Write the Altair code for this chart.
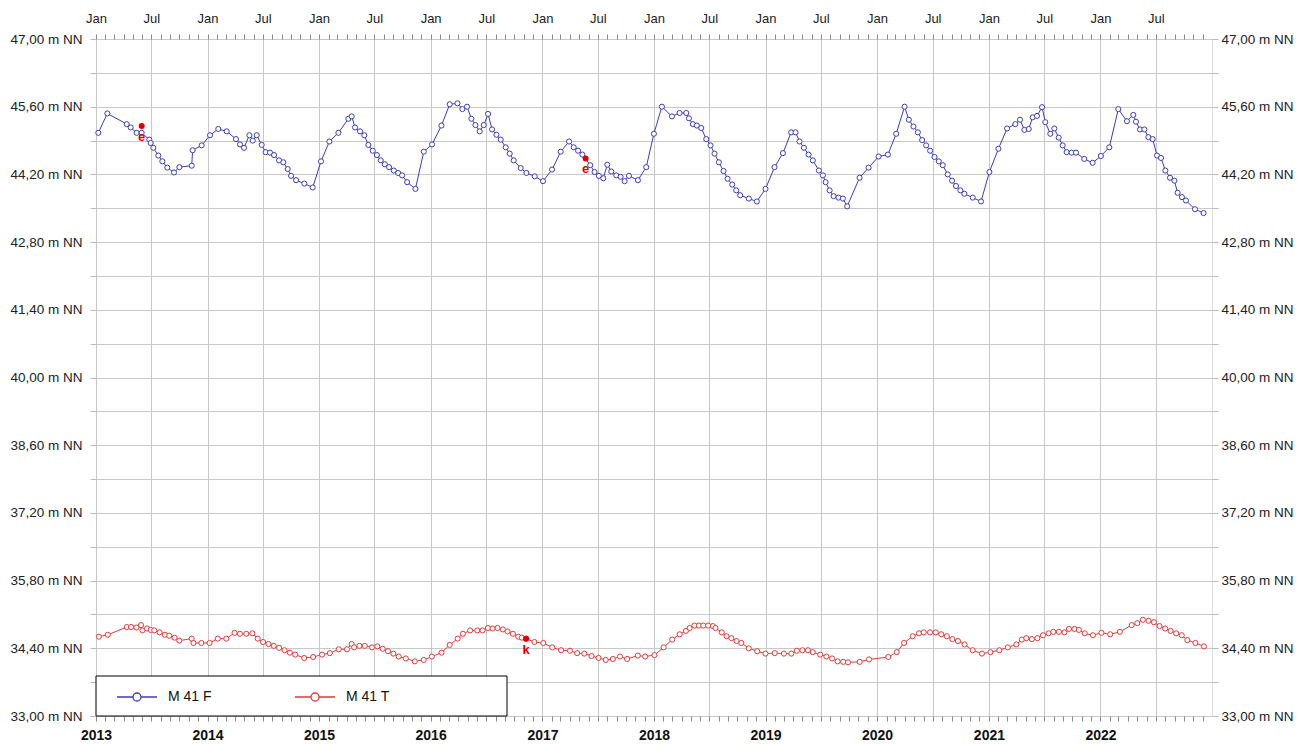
import altair as alt
import pandas as pd

# ---- data (months since Jan 2013, level in m NN) ----
blue_month = [0.25, 1.22, 3.30, 3.73, 4.37, 4.91, 5.73, 5.88, 6.16, 6.70, 7.13, 7.67, 8.39, 8.96,
              10.29, 10.39, 11.36, 12.26, 13.15, 14.05, 15.05, 15.48, 15.91, 16.49, 16.85, 17.28,
              17.81, 18.24, 18.71, 19.14, 19.68, 20.14, 20.61, 20.97, 21.51, 22.40, 23.30, 24.19,
              25.09, 26.06, 27.13, 27.49, 27.85, 28.39, 28.85, 29.28, 29.75, 30.20, 30.62, 31.05,
              31.51, 32.02, 32.48, 32.91, 33.45, 34.34, 35.24, 36.13, 37.14, 38.03, 38.86, 39.39,
              39.89, 40.36, 40.79, 41.25, 41.69, 42.15, 42.58, 43.05, 43.51, 44.05, 44.48, 44.91,
              45.66, 46.27, 47.17, 48.06, 49.03, 49.96, 50.86, 51.36, 51.83, 52.29, 53.14, 53.60,
              54.07, 54.54, 54.97, 55.40, 55.94, 56.40, 56.83, 57.30, 58.26, 59.16, 59.98, 60.84,
              61.92, 62.74, 63.46, 63.75, 64.17, 64.60, 65.07, 65.61, 66.07, 66.50, 66.97, 67.47,
              67.90, 68.40, 68.83, 69.26, 70.19, 71.05, 71.98, 72.95, 73.85, 74.74, 75.21, 75.64,
              76.11, 76.61, 77.07, 77.72, 78.15, 78.44, 78.87, 79.30, 79.83, 80.30, 80.76, 82.09,
              83.06, 84.14, 85.14, 86.03, 86.93, 87.39, 87.89, 88.36, 88.82, 89.25, 89.68, 90.15,
              90.61, 91.04, 91.57, 92.04, 92.46, 92.93, 93.36, 94.26, 95.15, 96.05, 97.02, 97.95,
              98.84, 99.34, 99.81, 100.28, 100.70, 101.17, 101.71, 102.06, 102.60, 103.03, 103.50,
              103.93, 104.36, 104.89, 105.36, 106.25, 107.15, 108.04, 108.94, 109.91, 110.84,
              111.52, 111.81, 112.24, 112.71, 113.14, 113.61, 114.07, 114.50, 114.97, 115.47,
              115.94, 116.29, 116.75, 117.18, 118.15, 119.08]
blue_level = [45.06, 45.46, 45.24, 45.17, 45.06, 45.06, 44.92, 44.85, 44.75, 44.59, 44.47, 44.34,
              44.24, 44.35, 44.38, 44.70, 44.80, 45.01, 45.14, 45.09, 44.93, 44.82, 44.75, 45.01,
              44.90, 45.01, 44.81, 44.66, 44.65, 44.60, 44.49, 44.45, 44.31, 44.17, 44.08, 44.01,
              43.93, 44.47, 44.88, 45.06, 45.35, 45.40, 45.17, 45.09, 45.01, 44.81, 44.69, 44.60,
              44.49, 44.41, 44.35, 44.28, 44.23, 44.18, 44.04, 43.90, 44.67, 44.82, 45.21, 45.65,
              45.67, 45.55, 45.60, 45.35, 45.22, 45.09, 45.22, 45.45, 45.13, 45.02, 44.92, 44.76,
              44.63, 44.49, 44.33, 44.23, 44.16, 44.06, 44.30, 44.67, 44.88, 44.76, 44.69, 44.61,
              44.39, 44.25, 44.17, 44.12, 44.40, 44.26, 44.18, 44.15, 44.06, 44.17, 44.08, 44.35,
              45.04, 45.60, 45.40, 45.47, 45.47, 45.36, 45.24, 45.21, 45.16, 44.93, 44.80, 44.63,
              44.45, 44.27, 44.11, 43.99, 43.87, 43.77, 43.70, 43.64, 43.90, 44.35, 44.64, 45.07,
              45.07, 44.88, 44.75, 44.61, 44.49, 44.28, 44.18, 44.04, 43.87, 43.75, 43.72, 43.70,
              43.54, 44.13, 44.34, 44.57, 44.61, 45.04, 45.60, 45.33, 45.19, 45.07, 44.91, 44.80,
              44.69, 44.56, 44.47, 44.39, 44.20, 44.07, 43.96, 43.87, 43.80, 43.72, 43.64, 44.25,
              44.73, 45.15, 45.24, 45.33, 45.12, 45.14, 45.38, 45.41, 45.59, 45.28, 45.04, 45.15,
              44.96, 44.80, 44.66, 44.65, 44.65, 44.52, 44.44, 44.58, 44.76, 45.55, 45.30, 45.43,
              45.29, 45.13, 45.13, 44.97, 44.93, 44.59, 44.54, 44.28, 44.13, 44.07, 43.82, 43.73,
              43.66, 43.48, 43.40]

red_month = [0.31, 1.27, 3.31, 3.77, 4.34, 4.84, 5.00, 5.49, 5.88, 6.26, 6.84, 7.41, 7.87, 8.45,
             8.95, 10.29, 10.48, 11.33, 12.21, 13.09, 14.01, 14.90, 15.47, 16.16, 16.81, 17.39,
             17.96, 18.54, 19.11, 19.69, 20.27, 20.84, 21.42, 22.38, 23.34, 24.30, 25.14, 26.10,
             26.98, 27.48, 27.75, 28.32, 28.90, 29.67, 30.24, 30.82, 31.39, 31.97, 32.54, 33.31,
             34.27, 35.23, 36.11, 37.15, 38.03, 38.88, 39.45, 40.22, 40.99, 41.56, 42.14, 42.64,
             43.17, 43.75, 44.25, 44.82, 45.40, 45.78, 46.24, 47.13, 48.09, 49.05, 50.00, 50.96,
             51.73, 52.50, 53.27, 54.03, 54.80, 55.57, 56.33, 57.10, 58.25, 59.04, 60.04, 61.03,
             61.95, 62.75, 63.42, 63.82, 64.34, 64.81, 65.29, 65.81, 66.32, 66.60, 67.28, 67.79,
             68.31, 68.87, 69.38, 70.18, 71.09, 71.98, 72.97, 73.96, 74.76, 75.35, 75.95, 76.55,
             77.06, 77.86, 78.53, 79.14, 79.73, 80.33, 80.85, 82.11, 83.11, 85.18, 86.09, 86.88,
             87.80, 88.48, 88.99, 89.67, 90.28, 90.88, 91.47, 92.07, 92.67, 93.38, 94.25, 95.25,
             96.16, 97.12, 98.03, 98.95, 99.54, 100.02, 100.62, 101.21, 101.81, 102.41, 102.92,
             103.52, 104.12, 104.60, 105.19, 105.67, 106.30, 107.18, 108.10, 109.04, 110.08,
             111.35, 111.95, 112.55, 113.15, 113.74, 114.34, 114.94, 115.53, 116.13, 116.73,
             117.33, 118.20, 119.12]
red_level = [34.64, 34.68, 34.84, 34.84, 34.83, 34.88, 34.77, 34.81, 34.78, 34.77, 34.73, 34.68,
             34.66, 34.62, 34.56, 34.60, 34.51, 34.51, 34.51, 34.60, 34.60, 34.72, 34.70, 34.70,
             34.71, 34.60, 34.53, 34.49, 34.45, 34.41, 34.36, 34.31, 34.27, 34.20, 34.22, 34.27,
             34.30, 34.38, 34.38, 34.49, 34.42, 34.45, 34.45, 34.42, 34.44, 34.39, 34.34, 34.29,
             34.23, 34.19, 34.13, 34.16, 34.23, 34.31, 34.47, 34.60, 34.70, 34.77, 34.77, 34.77,
             34.82, 34.81, 34.82, 34.79, 34.75, 34.70, 34.64, 34.62, 34.60, 34.53, 34.51, 34.42,
             34.36, 34.35, 34.30, 34.29, 34.24, 34.20, 34.16, 34.18, 34.23, 34.18, 34.25, 34.23,
             34.26, 34.42, 34.58, 34.69, 34.76, 34.82, 34.87, 34.87, 34.87, 34.87, 34.86, 34.82,
             34.73, 34.65, 34.61, 34.55, 34.51, 34.40, 34.34, 34.29, 34.30, 34.29, 34.29, 34.35,
             34.36, 34.36, 34.32, 34.27, 34.23, 34.19, 34.13, 34.12, 34.11, 34.12, 34.17, 34.22,
             34.32, 34.51, 34.65, 34.71, 34.73, 34.73, 34.73, 34.69, 34.65, 34.59, 34.55, 34.48,
             34.36, 34.29, 34.32, 34.36, 34.42, 34.48, 34.58, 34.61, 34.59, 34.61, 34.67, 34.71,
             34.74, 34.74, 34.73, 34.80, 34.80, 34.78, 34.71, 34.67, 34.72, 34.69, 34.74, 34.88,
             34.92, 34.99, 34.97, 34.94, 34.86, 34.81, 34.76, 34.71, 34.67, 34.57, 34.51, 34.44]

flag_month = [4.91, 52.64, 46.24]
flag_level = [45.20, 44.53, 34.60]
flag_text = ["e", "e", "k"]

series_names = ["M 41 F", "M 41 T"]
series_colors = ["#3c3cb8", "#e23a3a"]
y_ticks = [33.0, 33.7, 34.4, 35.1, 35.8, 36.5, 37.2, 37.9, 38.6, 39.3, 40.0, 40.7, 41.4,
           42.1, 42.8, 43.5, 44.2, 44.9, 45.6, 46.3, 47.0]

FONT = "Liberation Sans"


def to_dates(months):
    base = pd.Timestamp("2013-01-01")
    return [(base + pd.Timedelta(days=m * 30.4375)).strftime("%Y-%m-%dT%H:%M:%SZ") for m in months]


df = pd.concat([
    pd.DataFrame({"date": to_dates(blue_month), "level": blue_level, "series": series_names[0]}),
    pd.DataFrame({"date": to_dates(red_month), "level": red_level, "series": series_names[1]}),
], ignore_index=True)
flags = pd.DataFrame({"date": to_dates(flag_month), "level": flag_level, "txt": flag_text})

month_ticks = [alt.DateTime(year=2013 + i // 12, month=i % 12 + 1, date=1, utc=True) for i in range(120)]

x_scale = alt.Scale(type="utc", domain=[alt.DateTime(year=2013, month=1, date=1, utc=True),
                                        alt.DateTime(year=2023, month=1, date=1, utc=True)], nice=False)
y_scale = alt.Scale(domain=[33, 47], nice=False, zero=False)
color_scale = alt.Scale(domain=series_names, range=series_colors)

y_label = ("abs((datum.value - 33) / 1.4 - round((datum.value - 33) / 1.4)) < 0.01 ? "
           "replace(format(datum.value, '.2f'), '.', ',') + ' m NN' : ''")

legend_symbol = ("M-1,0L-0.2,0M0.2,0L1,0M-0.2,0A0.2,0.2,0,1,0,0.2,0A0.2,0.2,0,1,0,-0.2,0")

x_top = alt.X("date:T", scale=x_scale, title=None, axis=alt.Axis(
    orient="top", values=month_ticks, domain=False,
    labelExpr="utcmonth(datum.value) == 0 ? 'Jan' : (utcmonth(datum.value) == 6 ? 'Jul' : '')",
    labelFont=FONT, labelFontSize=13, labelColor="#222", labelPadding=9,
    labelFlush=False, labelOverlap=False,
    tickSize=5, tickColor="#888", grid=True, gridColor="#c8c8c8",
    gridOpacity={"condition": {"test": "utcmonth(datum.value) % 6 == 0", "value": 1}, "value": 0}))
x_bottom = alt.X("date:T", scale=x_scale, title=None, axis=alt.Axis(
    orient="bottom", values=month_ticks, domain=False, grid=False,
    labelExpr="utcmonth(datum.value) == 0 ? utcFormat(datum.value, '%Y') : ''",
    labelFont=FONT, labelFontSize=14, labelFontWeight="bold", labelColor="#111", labelPadding=7,
    labelFlush=False, labelOverlap=False, tickSize=5, tickColor="#888"))
y_left = alt.Y("level:Q", scale=y_scale, title=None, axis=alt.Axis(
    orient="left", values=y_ticks, labelExpr=y_label, domain=False, grid=True, gridColor="#c8c8c8",
    tickSize=6, tickColor="#bbb", labelFont=FONT, labelFontSize=13.5, labelColor="#222",
    labelPadding=8, labelOverlap=False))
y_right = alt.Y("level:Q", scale=y_scale, title=None, axis=alt.Axis(
    orient="right", values=y_ticks, labelExpr=y_label, domain=False, grid=False,
    tickSize=6, tickColor="#bbb", labelFont=FONT, labelFontSize=13.5, labelColor="#222",
    labelPadding=3, labelOverlap=False))

base = alt.Chart(df)

lines = base.mark_line(strokeWidth=1).encode(
    x=x_top, y=y_left,
    color=alt.Color("series:N", scale=color_scale, legend=alt.Legend(
        orient="none", legendX=20, legendY=637, direction="horizontal", title=None,
        symbolType=legend_symbol, symbolSize=1600, symbolStrokeWidth=1.3,
        symbolFillColor="white", labelFont=FONT, labelFontSize=14, labelColor="#111",
        labelOffset=10, columnPadding=80, padding=0)),
    detail="series:N")

points = base.mark_point(filled=True, fill="white", size=26, strokeWidth=1, opacity=1,
                         shape="circle").encode(
    x=x_bottom, y=y_right,
    stroke=alt.Stroke("series:N", scale=color_scale, legend=None))

legend_box = alt.Chart(pd.DataFrame({"box": [1]})).mark_rect(
    fill="white", stroke="black", strokeWidth=1).encode(
    x=alt.value(0), x2=alt.value(411), y=alt.value(637), y2=alt.value(677))

flag_dots = alt.Chart(flags).mark_circle(color="#e00000", size=36, opacity=1).encode(
    x=alt.X("date:T", scale=x_scale, axis=None),
    y=alt.Y("level:Q", scale=y_scale, axis=None))
flag_labels = alt.Chart(flags).mark_text(color="#e00000", fontSize=13, fontWeight="bold",
                                         font=FONT, dy=11, baseline="middle").encode(
    x=alt.X("date:T", scale=x_scale, axis=None),
    y=alt.Y("level:Q", scale=y_scale, axis=None),
    text="txt:N")

chart = alt.layer(lines, points, legend_box, flag_dots, flag_labels).resolve_axis(
    x="independent", y="independent"
).properties(
    width=1116, height=677,
    padding={"left": 88, "top": 31, "right": 82, "bottom": 29},
    autosize=alt.AutoSizeParams(type="none"),
).configure_view(stroke="black", strokeWidth=1).configure(font=FONT)

chart.save("out.html", embed_options={"renderer": "svg", "actions": False})
